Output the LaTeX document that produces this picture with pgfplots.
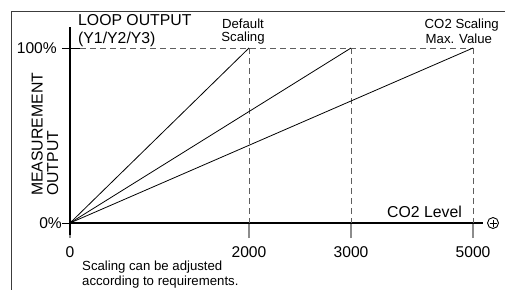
\documentclass[border=0pt]{standalone}
\usepackage{fontspec}
\setmainfont{Liberation Sans}
\usepackage{pgfplots}
\pgfplotsset{compat=1.18}
\definecolor{dashcol}{RGB}{95,95,95}
\definecolor{tickcol}{RGB}{140,140,140}
\definecolor{framecol}{RGB}{60,60,60}
\begin{document}
\begin{tikzpicture}
\begin{axis}[
  scale only axis, width=413pt, height=196pt,
  xmin=0, xmax=413, ymin=0, ymax=112,
  axis x line=bottom, axis y line=left,
  axis line style={-, line width=1.2pt, black},
  xtick={0,179,281,403},
  xticklabels={0,2000,3000,5000},
  ytick={0,100}, yticklabels={0\%,100\%\hspace*{5pt}},
  tick align=outside, major tick length=15pt,
  xtick style={draw=tickcol, line width=2pt},
  ytick style={draw=none},
  ticklabel style={font=\fontsize{15.6}{18}\selectfont},
  xticklabel style={anchor=north, inner sep=0pt, yshift=-8.5pt},
  yticklabel style={anchor=east, inner sep=0pt, xshift=7pt},
  clip=false,
]
% reference lines
\addplot[dashcol, line width=1pt, dash pattern=on 6pt off 4pt] coordinates {(0,100) (403,100)};
\addplot[dashcol, line width=1pt, dash pattern=on 6pt off 4pt] coordinates {(179,100) (179,0)};
\addplot[dashcol, line width=1pt, dash pattern=on 6pt off 4pt] coordinates {(281,100) (281,0)};
\addplot[dashcol, line width=1pt, dash pattern=on 6pt off 4pt] coordinates {(403,100) (403,0)};
% scaling lines
\addplot[black, line width=0.8pt] coordinates {(0,0) (179,100)};
\addplot[black, line width=0.8pt] coordinates {(0,0) (281,100)};
\addplot[black, line width=0.8pt] coordinates {(0,0) (403,100)};
% y ticks and axis extension
\draw[black, line width=1pt] (axis cs:-8,100) -- (axis cs:10,100);
\draw[black, line width=1pt] (axis cs:-8,0) -- (axis cs:0,0);
\draw[black, line width=1.2pt] (axis cs:0,0) -- (axis cs:0,-6.86);
% circled plus
\draw[black, line width=0.9pt] (axis cs:423,0) circle[radius=5.5pt];
\draw[black, line width=0.9pt] (axis cs:419.5,0) -- (axis cs:426.5,0);
\draw[black, line width=0.9pt] (axis cs:423,-2) -- (axis cs:423,2);
% texts
\node[anchor=base west, inner sep=0pt, font=\fontsize{15.8}{18}\selectfont] at (axis cs:8,112.7) {LOOP OUTPUT};
\node[anchor=base west, inner sep=0pt, font=\fontsize{15.8}{18}\selectfont] at (axis cs:8,102.86) {(Y1/Y2/Y3)};
\node[anchor=base, inner sep=0pt, font=\fontsize{13.2}{15}\selectfont] at (axis cs:173,111.3) {Default};
\node[anchor=base, inner sep=0pt, font=\fontsize{13.2}{15}\selectfont] at (axis cs:173,103.6) {Scaling};
\node[anchor=base west, inner sep=0pt, font=\fontsize{13.2}{15}\selectfont] at (axis cs:354.5,111.3) {CO2 Scaling};
\node[anchor=base west, inner sep=0pt, font=\fontsize{13.2}{15}\selectfont] at (axis cs:355.5,102.7) {Max. Value};
\node[anchor=base west, inner sep=0pt, font=\fontsize{15.8}{18}\selectfont] at (axis cs:317,3.26) {CO2 Level};
\node[anchor=base west, rotate=90, inner sep=0pt, font=\fontsize{15.8}{18}\selectfont] at (axis cs:-27.3,15.43) {MEASUREMENT};
\node[anchor=base west, rotate=90, inner sep=0pt, font=\fontsize{15.8}{18}\selectfont] at (axis cs:-12,15.43) {OUTPUT};
\node[anchor=base west, inner sep=0pt, font=\fontsize{13.2}{15}\selectfont] at (axis cs:12,-27.26) {Scaling can be adjusted};
\node[anchor=base west, inner sep=0pt, font=\fontsize{13.2}{15}\selectfont] at (axis cs:12,-35.43) {according to requirements.};
% frame
\draw[framecol, line width=1pt] (axis cs:-58,-40) -- (axis cs:-58,121.14) -- (axis cs:440,121.14);
\coordinate (bbtl) at (axis cs:-70,127.43);
\coordinate (bbbr) at (axis cs:435,-37.71);
\end{axis}
\pgfresetboundingbox
\path[use as bounding box] (bbtl) rectangle (bbbr);
\end{tikzpicture}
\end{document}
